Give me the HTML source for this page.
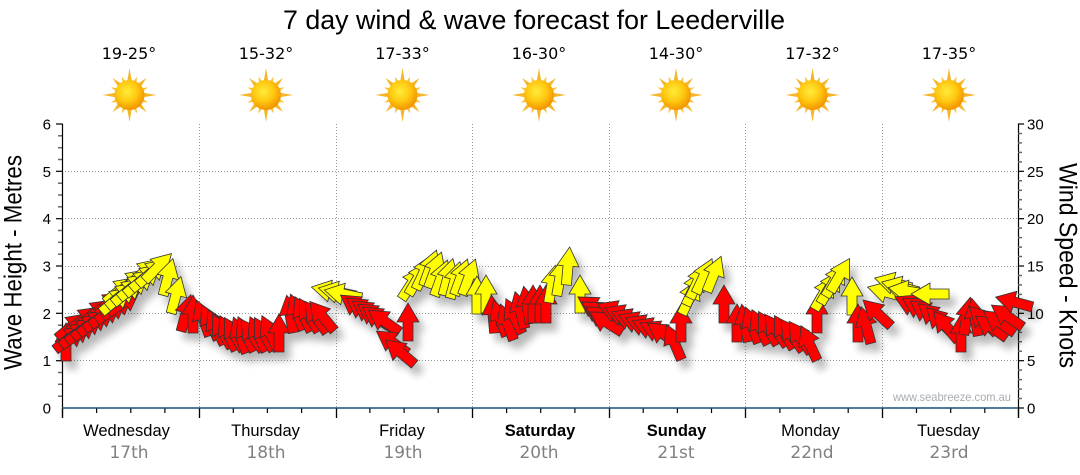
<!DOCTYPE html>
<html><head><meta charset="utf-8"><style>
html,body{margin:0;padding:0;background:#fff;width:1080px;height:475px;overflow:hidden}
svg{display:block}
</style></head><body>
<svg width="1080" height="475" viewBox="0 0 1080 475" xmlns="http://www.w3.org/2000/svg">
<defs>
<radialGradient id="core" cx="42%" cy="38%" r="62%">
<stop offset="0" stop-color="#ffec3a"/><stop offset="0.55" stop-color="#ffc810"/><stop offset="1" stop-color="#f29400"/>
</radialGradient>
<g id="sun">
<g fill="#f5b62c">
<polygon points="0,-27 2.4,-13 -2.4,-13"/>
<polygon points="0,-27 2.4,-13 -2.4,-13" transform="rotate(90)"/>
<polygon points="0,-27 2.4,-13 -2.4,-13" transform="rotate(180)"/>
<polygon points="0,-27 2.4,-13 -2.4,-13" transform="rotate(270)"/>
<polygon points="0,-24 2.4,-13 -2.4,-13" transform="rotate(45)"/>
<polygon points="0,-24 2.4,-13 -2.4,-13" transform="rotate(135)"/>
<polygon points="0,-24 2.4,-13 -2.4,-13" transform="rotate(225)"/>
<polygon points="0,-24 2.4,-13 -2.4,-13" transform="rotate(315)"/>
</g>
<g fill="#f8c440">
<polygon points="0,-20 2,-13 -2,-13" transform="rotate(22.5)"/>
<polygon points="0,-20 2,-13 -2,-13" transform="rotate(67.5)"/>
<polygon points="0,-20 2,-13 -2,-13" transform="rotate(112.5)"/>
<polygon points="0,-20 2,-13 -2,-13" transform="rotate(157.5)"/>
<polygon points="0,-20 2,-13 -2,-13" transform="rotate(202.5)"/>
<polygon points="0,-20 2,-13 -2,-13" transform="rotate(247.5)"/>
<polygon points="0,-20 2,-13 -2,-13" transform="rotate(292.5)"/>
<polygon points="0,-20 2,-13 -2,-13" transform="rotate(337.5)"/>
</g>
<circle r="15" fill="url(#core)"/>
</g>
<path id="ar" d="M-5,19 L5,19 L5,0 L11,0 L0,-19 L-11,0 L-5,0 Z" stroke="#333" stroke-width="0.8" stroke-linejoin="miter"/>
<filter id="sh" x="-10%" y="-20%" width="130%" height="160%">
<feGaussianBlur in="SourceAlpha" stdDeviation="4"/>
<feOffset dx="6" dy="8"/>
<feComponentTransfer result="s"><feFuncA type="linear" slope="0.28"/></feComponentTransfer>
<feMerge><feMergeNode in="s"/><feMergeNode in="SourceGraphic"/></feMerge>
</filter>
</defs>

<text x="534" y="29" font-family="Liberation Sans, Arial, sans-serif" font-size="26.5" text-anchor="middle" textLength="502" lengthAdjust="spacingAndGlyphs" fill="#000">7 day wind &amp; wave forecast for Leederville</text>

<g font-family="DejaVu Sans, Verdana, sans-serif" font-size="16" fill="#000" text-anchor="middle">
<text x="129" y="59">19-25°</text>
<text x="266" y="59">15-32°</text>
<text x="402.5" y="59">17-33°</text>
<text x="539" y="59">16-30°</text>
<text x="676" y="59">14-30°</text>
<text x="812.5" y="59">17-32°</text>
<text x="949" y="59">17-35°</text>
</g>

<use href="#sun" x="129.5" y="95"/>
<use href="#sun" x="266" y="95"/>
<use href="#sun" x="402.5" y="95"/>
<use href="#sun" x="539" y="95"/>
<use href="#sun" x="676" y="95"/>
<use href="#sun" x="812.5" y="95"/>
<use href="#sun" x="949" y="95"/>

<g stroke="#9a9a9a" stroke-width="1" stroke-dasharray="1,2">
<line x1="62" y1="171.5" x2="1018" y2="171.5"/>
<line x1="62" y1="218.5" x2="1018" y2="218.5"/>
<line x1="62" y1="266.5" x2="1018" y2="266.5"/>
<line x1="62" y1="313.5" x2="1018" y2="313.5"/>
<line x1="62" y1="360.5" x2="1018" y2="360.5"/>
<line x1="199.5" y1="124" x2="199.5" y2="408"/>
<line x1="336.5" y1="124" x2="336.5" y2="408"/>
<line x1="472.5" y1="124" x2="472.5" y2="408"/>
<line x1="609.5" y1="124" x2="609.5" y2="408"/>
<line x1="745.5" y1="124" x2="745.5" y2="408"/>
<line x1="882.5" y1="124" x2="882.5" y2="408"/>
</g>

<line x1="62.5" y1="123.5" x2="62.5" y2="418" stroke="#000" stroke-width="1.2"/>
<g stroke="#000" stroke-width="1.2">
<line x1="56" y1="124" x2="62" y2="124"/>
<line x1="56" y1="171.3" x2="62" y2="171.3"/>
<line x1="56" y1="218.7" x2="62" y2="218.7"/>
<line x1="56" y1="266" x2="62" y2="266"/>
<line x1="56" y1="313.3" x2="62" y2="313.3"/>
<line x1="56" y1="360.7" x2="62" y2="360.7"/>
</g>
<g stroke="#666" stroke-width="1.5">
<line x1="58" y1="135.8" x2="62" y2="135.8"/><line x1="58" y1="147.7" x2="62" y2="147.7"/><line x1="58" y1="159.5" x2="62" y2="159.5"/>
<line x1="58" y1="183.2" x2="62" y2="183.2"/><line x1="58" y1="195" x2="62" y2="195"/><line x1="58" y1="206.8" x2="62" y2="206.8"/>
<line x1="58" y1="230.5" x2="62" y2="230.5"/><line x1="58" y1="242.3" x2="62" y2="242.3"/><line x1="58" y1="254.2" x2="62" y2="254.2"/>
<line x1="58" y1="277.8" x2="62" y2="277.8"/><line x1="58" y1="289.7" x2="62" y2="289.7"/><line x1="58" y1="301.5" x2="62" y2="301.5"/>
<line x1="58" y1="325.2" x2="62" y2="325.2"/><line x1="58" y1="337" x2="62" y2="337"/><line x1="58" y1="348.8" x2="62" y2="348.8"/>
<line x1="58" y1="372.5" x2="62" y2="372.5"/><line x1="58" y1="384.3" x2="62" y2="384.3"/><line x1="58" y1="396.2" x2="62" y2="396.2"/>
</g>
<g font-family="Liberation Sans, Arial, sans-serif" font-size="15" fill="#000" text-anchor="end">
<text x="51" y="129.5">6</text>
<text x="51" y="176.8">5</text>
<text x="51" y="224.2">4</text>
<text x="51" y="271.5">3</text>
<text x="51" y="318.8">2</text>
<text x="51" y="366.2">1</text>
<text x="51" y="413.5">0</text>
</g>

<line x1="1018.5" y1="123.5" x2="1018.5" y2="418" stroke="#000" stroke-width="1.2"/>
<g stroke="#000" stroke-width="1.2">
<line x1="1018" y1="124" x2="1024" y2="124"/>
<line x1="1018" y1="171.3" x2="1024" y2="171.3"/>
<line x1="1018" y1="218.7" x2="1024" y2="218.7"/>
<line x1="1018" y1="266" x2="1024" y2="266"/>
<line x1="1018" y1="313.3" x2="1024" y2="313.3"/>
<line x1="1018" y1="360.7" x2="1024" y2="360.7"/>
<line x1="1018" y1="408" x2="1024" y2="408"/>
</g>
<g stroke="#666" stroke-width="1.5">
<line x1="1018" y1="133.5" x2="1022" y2="133.5"/><line x1="1018" y1="142.9" x2="1022" y2="142.9"/><line x1="1018" y1="152.4" x2="1022" y2="152.4"/><line x1="1018" y1="161.9" x2="1022" y2="161.9"/>
<line x1="1018" y1="180.8" x2="1022" y2="180.8"/><line x1="1018" y1="190.3" x2="1022" y2="190.3"/><line x1="1018" y1="199.7" x2="1022" y2="199.7"/><line x1="1018" y1="209.2" x2="1022" y2="209.2"/>
<line x1="1018" y1="228.1" x2="1022" y2="228.1"/><line x1="1018" y1="237.6" x2="1022" y2="237.6"/><line x1="1018" y1="247.1" x2="1022" y2="247.1"/><line x1="1018" y1="256.5" x2="1022" y2="256.5"/>
<line x1="1018" y1="275.5" x2="1022" y2="275.5"/><line x1="1018" y1="284.9" x2="1022" y2="284.9"/><line x1="1018" y1="294.4" x2="1022" y2="294.4"/><line x1="1018" y1="303.9" x2="1022" y2="303.9"/>
<line x1="1018" y1="322.8" x2="1022" y2="322.8"/><line x1="1018" y1="332.3" x2="1022" y2="332.3"/><line x1="1018" y1="341.7" x2="1022" y2="341.7"/><line x1="1018" y1="351.2" x2="1022" y2="351.2"/>
<line x1="1018" y1="370.1" x2="1022" y2="370.1"/><line x1="1018" y1="379.6" x2="1022" y2="379.6"/><line x1="1018" y1="389.1" x2="1022" y2="389.1"/><line x1="1018" y1="398.5" x2="1022" y2="398.5"/>
</g>
<g font-family="Liberation Sans, Arial, sans-serif" font-size="15" fill="#000" text-anchor="start">
<text x="1027" y="129.5">30</text>
<text x="1027" y="176.8">25</text>
<text x="1027" y="224.2">20</text>
<text x="1027" y="271.5">15</text>
<text x="1027" y="318.8">10</text>
<text x="1027" y="366.2">5</text>
<text x="1027" y="413.5">0</text>
</g>

<g stroke="#000" stroke-width="1.3">
<line x1="62.5" y1="408" x2="62.5" y2="418"/>
<line x1="199.5" y1="408" x2="199.5" y2="418"/>
<line x1="336.5" y1="408" x2="336.5" y2="418"/>
<line x1="472.5" y1="408" x2="472.5" y2="418"/>
<line x1="609.5" y1="408" x2="609.5" y2="418"/>
<line x1="745.5" y1="408" x2="745.5" y2="418"/>
<line x1="882.5" y1="408" x2="882.5" y2="418"/>
<line x1="1018.5" y1="408" x2="1018.5" y2="418"/>
</g>
<g stroke="#000" stroke-width="1.2">
<line x1="96.6" y1="408" x2="96.6" y2="413"/><line x1="130.8" y1="408" x2="130.8" y2="413"/><line x1="164.9" y1="408" x2="164.9" y2="413"/>
<line x1="233.3" y1="408" x2="233.3" y2="413"/><line x1="267.4" y1="408" x2="267.4" y2="413"/><line x1="301.6" y1="408" x2="301.6" y2="413"/>
<line x1="369.9" y1="408" x2="369.9" y2="413"/><line x1="404.1" y1="408" x2="404.1" y2="413"/><line x1="438.2" y1="408" x2="438.2" y2="413"/>
<line x1="506.6" y1="408" x2="506.6" y2="413"/><line x1="540.7" y1="408" x2="540.7" y2="413"/><line x1="574.9" y1="408" x2="574.9" y2="413"/>
<line x1="643.2" y1="408" x2="643.2" y2="413"/><line x1="677.4" y1="408" x2="677.4" y2="413"/><line x1="711.5" y1="408" x2="711.5" y2="413"/>
<line x1="779.9" y1="408" x2="779.9" y2="413"/><line x1="814" y1="408" x2="814" y2="413"/><line x1="848.2" y1="408" x2="848.2" y2="413"/>
<line x1="916.5" y1="408" x2="916.5" y2="413"/><line x1="950.7" y1="408" x2="950.7" y2="413"/><line x1="984.8" y1="408" x2="984.8" y2="413"/>
</g>
<line x1="62" y1="408" x2="1018" y2="408" stroke="#10507f" stroke-width="1.6"/>

<text transform="translate(21.5,262.5) rotate(-90)" font-family="Liberation Sans, Arial, sans-serif" font-size="25" text-anchor="middle" textLength="215" lengthAdjust="spacingAndGlyphs" fill="#000">Wave Height - Metres</text>
<text transform="translate(1059.5,265.5) rotate(90)" font-family="Liberation Sans, Arial, sans-serif" font-size="25" text-anchor="middle" textLength="205" lengthAdjust="spacingAndGlyphs" fill="#000">Wind Speed - Knots</text>

<g font-family="Liberation Sans, Arial, sans-serif" font-size="16.5" fill="#000" text-anchor="middle">
<text x="126.5" y="436">Wednesday</text>
<text x="265.5" y="436">Thursday</text>
<text x="402" y="436">Friday</text>
<text x="540" y="436" font-weight="bold">Saturday</text>
<text x="676.5" y="436" font-weight="bold">Sunday</text>
<text x="810.5" y="436">Monday</text>
<text x="948.5" y="436">Tuesday</text>
</g>
<g font-family="DejaVu Sans, Verdana, sans-serif" font-size="17" fill="#808080" text-anchor="middle">
<text x="129" y="458">17th</text>
<text x="266" y="458">18th</text>
<text x="403" y="458">19th</text>
<text x="539" y="458">20th</text>
<text x="676" y="458">21st</text>
<text x="812" y="458">22nd</text>
<text x="949" y="458">23rd</text>
</g>

<text x="1011" y="401" font-family="Liberation Sans, Arial, sans-serif" font-size="12" fill="#a8adb3" text-anchor="end" textLength="118" lengthAdjust="spacingAndGlyphs">www.seabreeze.com.au</text>

<g filter="url(#sh)">
<!-- Wednesday -->
<use href="#ar" fill="#ff0000" transform="translate(66,342) rotate(0)"/>
<use href="#ar" fill="#ff0000" transform="translate(72,326) rotate(50)"/>
<use href="#ar" fill="#ff0000" transform="translate(84,319) rotate(52)"/>
<use href="#ar" fill="#ff0000" transform="translate(96,312) rotate(52)"/>
<use href="#ar" fill="#ff0000" transform="translate(108,304) rotate(55)"/>
<use href="#ar" fill="#ff0000" transform="translate(70,338) rotate(52)"/>
<use href="#ar" fill="#ff0000" transform="translate(76,334) rotate(52)"/>
<use href="#ar" fill="#ff0000" transform="translate(82,330) rotate(52)"/>
<use href="#ar" fill="#ff0000" transform="translate(88,326) rotate(52)"/>
<use href="#ar" fill="#ff0000" transform="translate(94,322) rotate(52)"/>
<use href="#ar" fill="#ff0000" transform="translate(100,318) rotate(54)"/>
<use href="#ar" fill="#ff0000" transform="translate(106,314) rotate(54)"/>
<use href="#ar" fill="#ff0000" transform="translate(112,310) rotate(55)"/>
<use href="#ar" fill="#ff0000" transform="translate(118,306) rotate(55)"/>
<use href="#ar" fill="#ff0000" transform="translate(124,302) rotate(55)"/>
<use href="#ar" fill="#ffff00" transform="translate(120,290) rotate(50)"/>
<use href="#ar" fill="#ffff00" transform="translate(132,282) rotate(50)"/>
<use href="#ar" fill="#ffff00" transform="translate(144,272) rotate(48)"/>
<use href="#ar" fill="#ffff00" transform="translate(116,300) rotate(50)"/>
<use href="#ar" fill="#ffff00" transform="translate(122,295) rotate(50)"/>
<use href="#ar" fill="#ffff00" transform="translate(128,291) rotate(50)"/>
<use href="#ar" fill="#ffff00" transform="translate(134,286) rotate(50)"/>
<use href="#ar" fill="#ffff00" transform="translate(140,282) rotate(50)"/>
<use href="#ar" fill="#ffff00" transform="translate(146,277) rotate(50)"/>
<use href="#ar" fill="#ffff00" transform="translate(152,272) rotate(48)"/>
<use href="#ar" fill="#ffff00" transform="translate(158,267) rotate(45)"/>
<use href="#ar" fill="#ffff00" transform="translate(168,277) rotate(15)"/>
<use href="#ar" fill="#ffff00" transform="translate(176,295) rotate(15)"/>
<!-- Thursday -->
<use href="#ar" fill="#ff0000" transform="translate(186,313) rotate(15)"/>
<use href="#ar" fill="#ff0000" transform="translate(193,314) rotate(0)"/>
<use href="#ar" fill="#ff0000" transform="translate(203,318) rotate(-20)"/>
<use href="#ar" fill="#ff0000" transform="translate(210,322) rotate(-25)"/>
<use href="#ar" fill="#ff0000" transform="translate(216,327) rotate(-25)"/>
<use href="#ar" fill="#ff0000" transform="translate(222,331) rotate(-30)"/>
<use href="#ar" fill="#ff0000" transform="translate(228,333) rotate(-25)"/>
<use href="#ar" fill="#ff0000" transform="translate(234,334) rotate(-30)"/>
<use href="#ar" fill="#ff0000" transform="translate(240,335) rotate(-20)"/>
<use href="#ar" fill="#ff0000" transform="translate(246,334) rotate(-25)"/>
<use href="#ar" fill="#ff0000" transform="translate(252,335) rotate(-35)"/>
<use href="#ar" fill="#ff0000" transform="translate(258,334) rotate(-25)"/>
<use href="#ar" fill="#ff0000" transform="translate(264,334) rotate(-30)"/>
<use href="#ar" fill="#ff0000" transform="translate(270,333) rotate(-25)"/>
<use href="#ar" fill="#ff0000" transform="translate(279,333) rotate(0)"/>
<use href="#ar" fill="#ff0000" transform="translate(290,314) rotate(-10)"/>
<use href="#ar" fill="#ff0000" transform="translate(297,312) rotate(-20)"/>
<use href="#ar" fill="#ff0000" transform="translate(303,314) rotate(-25)"/>
<use href="#ar" fill="#ff0000" transform="translate(309,315) rotate(-30)"/>
<use href="#ar" fill="#ff0000" transform="translate(316,317) rotate(-35)"/>
<use href="#ar" fill="#ff0000" transform="translate(322,316) rotate(-40)"/>
<!-- Friday -->
<use href="#ar" fill="#ffff00" transform="translate(330,291) rotate(-78)"/>
<use href="#ar" fill="#ffff00" transform="translate(337,292) rotate(-78)"/>
<use href="#ar" fill="#ffff00" transform="translate(343,294) rotate(-78)"/>
<use href="#ar" fill="#ff0000" transform="translate(356,306) rotate(-55)"/>
<use href="#ar" fill="#ff0000" transform="translate(362,309) rotate(-55)"/>
<use href="#ar" fill="#ff0000" transform="translate(368,312) rotate(-55)"/>
<use href="#ar" fill="#ff0000" transform="translate(373,315) rotate(-55)"/>
<use href="#ar" fill="#ff0000" transform="translate(378,318) rotate(-55)"/>
<use href="#ar" fill="#ff0000" transform="translate(384,321) rotate(-55)"/>
<use href="#ar" fill="#ff0000" transform="translate(392,342) rotate(-55)"/>
<use href="#ar" fill="#ff0000" transform="translate(400,352) rotate(-50)"/>
<use href="#ar" fill="#ff0000" transform="translate(408,322) rotate(0)"/>
<use href="#ar" fill="#ffff00" transform="translate(412,283) rotate(33)"/>
<use href="#ar" fill="#ffff00" transform="translate(418,278) rotate(30)"/>
<use href="#ar" fill="#ffff00" transform="translate(424,272) rotate(25)"/>
<use href="#ar" fill="#ffff00" transform="translate(430,268) rotate(20)"/>
<use href="#ar" fill="#ffff00" transform="translate(435,270) rotate(20)"/>
<use href="#ar" fill="#ffff00" transform="translate(441,278) rotate(20)"/>
<use href="#ar" fill="#ffff00" transform="translate(448,277) rotate(15)"/>
<use href="#ar" fill="#ffff00" transform="translate(455,280) rotate(15)"/>
<use href="#ar" fill="#ffff00" transform="translate(461,277) rotate(20)"/>
<use href="#ar" fill="#ffff00" transform="translate(469,277) rotate(20)"/>
<use href="#ar" fill="#ffff00" transform="translate(477,295) rotate(0)"/>
<use href="#ar" fill="#ffff00" transform="translate(486,294) rotate(0)"/>
<!-- Saturday -->
<use href="#ar" fill="#ff0000" transform="translate(493,314) rotate(-5)"/>
<use href="#ar" fill="#ff0000" transform="translate(500,318) rotate(-20)"/>
<use href="#ar" fill="#ff0000" transform="translate(507,322) rotate(-20)"/>
<use href="#ar" fill="#ff0000" transform="translate(514,316) rotate(-25)"/>
<use href="#ar" fill="#ff0000" transform="translate(520,310) rotate(-15)"/>
<use href="#ar" fill="#ff0000" transform="translate(527,305) rotate(-10)"/>
<use href="#ar" fill="#ff0000" transform="translate(533,304) rotate(0)"/>
<use href="#ar" fill="#ff0000" transform="translate(540,304) rotate(0)"/>
<use href="#ar" fill="#ff0000" transform="translate(546,304) rotate(0)"/>
<use href="#ar" fill="#ffff00" transform="translate(552,284) rotate(10)"/>
<use href="#ar" fill="#ffff00" transform="translate(560,277) rotate(10)"/>
<use href="#ar" fill="#ffff00" transform="translate(568,266) rotate(5)"/>
<use href="#ar" fill="#ffff00" transform="translate(580,294) rotate(0)"/>
<use href="#ar" fill="#ff0000" transform="translate(594,307) rotate(-58)"/>
<use href="#ar" fill="#ff0000" transform="translate(598,312) rotate(-58)"/>
<use href="#ar" fill="#ff0000" transform="translate(602,317) rotate(-58)"/>
<use href="#ar" fill="#ff0000" transform="translate(606,322) rotate(-58)"/>
<!-- Sunday -->
<use href="#ar" fill="#ff0000" transform="translate(615,311) rotate(-68)"/>
<use href="#ar" fill="#ff0000" transform="translate(622,315) rotate(-68)"/>
<use href="#ar" fill="#ff0000" transform="translate(629,319) rotate(-68)"/>
<use href="#ar" fill="#ff0000" transform="translate(636,322) rotate(-68)"/>
<use href="#ar" fill="#ff0000" transform="translate(643,325) rotate(-68)"/>
<use href="#ar" fill="#ff0000" transform="translate(650,328) rotate(-68)"/>
<use href="#ar" fill="#ff0000" transform="translate(657,331) rotate(-65)"/>
<use href="#ar" fill="#ff0000" transform="translate(663,334) rotate(-55)"/>
<use href="#ar" fill="#ff0000" transform="translate(674,342) rotate(-23)"/>
<use href="#ar" fill="#ff0000" transform="translate(681,323) rotate(0)"/>
<use href="#ar" fill="#ffff00" transform="translate(690,297) rotate(25)"/>
<use href="#ar" fill="#ffff00" transform="translate(694,288) rotate(25)"/>
<use href="#ar" fill="#ffff00" transform="translate(698,281) rotate(25)"/>
<use href="#ar" fill="#ffff00" transform="translate(704,276) rotate(25)"/>
<use href="#ar" fill="#ffff00" transform="translate(714,274) rotate(22)"/>
<use href="#ar" fill="#ff0000" transform="translate(724,304) rotate(0)"/>
<!-- Monday -->
<use href="#ar" fill="#ff0000" transform="translate(737,323) rotate(0)"/>
<use href="#ar" fill="#ff0000" transform="translate(745,323) rotate(-10)"/>
<use href="#ar" fill="#ff0000" transform="translate(752,325) rotate(-20)"/>
<use href="#ar" fill="#ff0000" transform="translate(760,327) rotate(-25)"/>
<use href="#ar" fill="#ff0000" transform="translate(768,328) rotate(-30)"/>
<use href="#ar" fill="#ff0000" transform="translate(776,330) rotate(-35)"/>
<use href="#ar" fill="#ff0000" transform="translate(784,332) rotate(-30)"/>
<use href="#ar" fill="#ff0000" transform="translate(792,335) rotate(-35)"/>
<use href="#ar" fill="#ff0000" transform="translate(800,337) rotate(-35)"/>
<use href="#ar" fill="#ff0000" transform="translate(809,343) rotate(-25)"/>
<use href="#ar" fill="#ff0000" transform="translate(817,314) rotate(0)"/>
<use href="#ar" fill="#ffff00" transform="translate(824,293) rotate(30)"/>
<use href="#ar" fill="#ffff00" transform="translate(830,287) rotate(30)"/>
<use href="#ar" fill="#ffff00" transform="translate(835,280) rotate(30)"/>
<use href="#ar" fill="#ffff00" transform="translate(840,275) rotate(30)"/>
<use href="#ar" fill="#ffff00" transform="translate(852,296) rotate(0)"/>
<use href="#ar" fill="#ff0000" transform="translate(858,323) rotate(0)"/>
<use href="#ar" fill="#ff0000" transform="translate(866,325) rotate(-15)"/>
<use href="#ar" fill="#ff0000" transform="translate(877,313) rotate(-47)"/>
<!-- Tuesday -->
<use href="#ar" fill="#ffff00" transform="translate(886,292) rotate(-75)"/>
<use href="#ar" fill="#ffff00" transform="translate(893,283) rotate(-75)"/>
<use href="#ar" fill="#ffff00" transform="translate(900,287) rotate(-75)"/>
<use href="#ar" fill="#ffff00" transform="translate(907,291) rotate(-80)"/>
<use href="#ar" fill="#ff0000" transform="translate(912,305) rotate(-65)"/>
<use href="#ar" fill="#ff0000" transform="translate(919,308) rotate(-60)"/>
<use href="#ar" fill="#ff0000" transform="translate(926,312) rotate(-55)"/>
<use href="#ar" fill="#ffff00" transform="translate(930,294) rotate(-90)"/>
<use href="#ar" fill="#ff0000" transform="translate(933,316) rotate(-50)"/>
<use href="#ar" fill="#ff0000" transform="translate(940,321) rotate(-45)"/>
<use href="#ar" fill="#ff0000" transform="translate(946,326) rotate(-40)"/>
<use href="#ar" fill="#ff0000" transform="translate(961,333) rotate(0)"/>
<use href="#ar" fill="#ff0000" transform="translate(967,316) rotate(10)"/>
<use href="#ar" fill="#ff0000" transform="translate(975,317) rotate(-10)"/>
<use href="#ar" fill="#ff0000" transform="translate(983,320) rotate(-45)"/>
<use href="#ar" fill="#ff0000" transform="translate(991,327) rotate(-55)"/>
<use href="#ar" fill="#ff0000" transform="translate(999,322) rotate(-55)"/>
<use href="#ar" fill="#ff0000" transform="translate(1007,316) rotate(-55)"/>
<use href="#ar" fill="#ff0000" transform="translate(1014,302) rotate(-75)"/>
</g>
</svg>
</body></html>
